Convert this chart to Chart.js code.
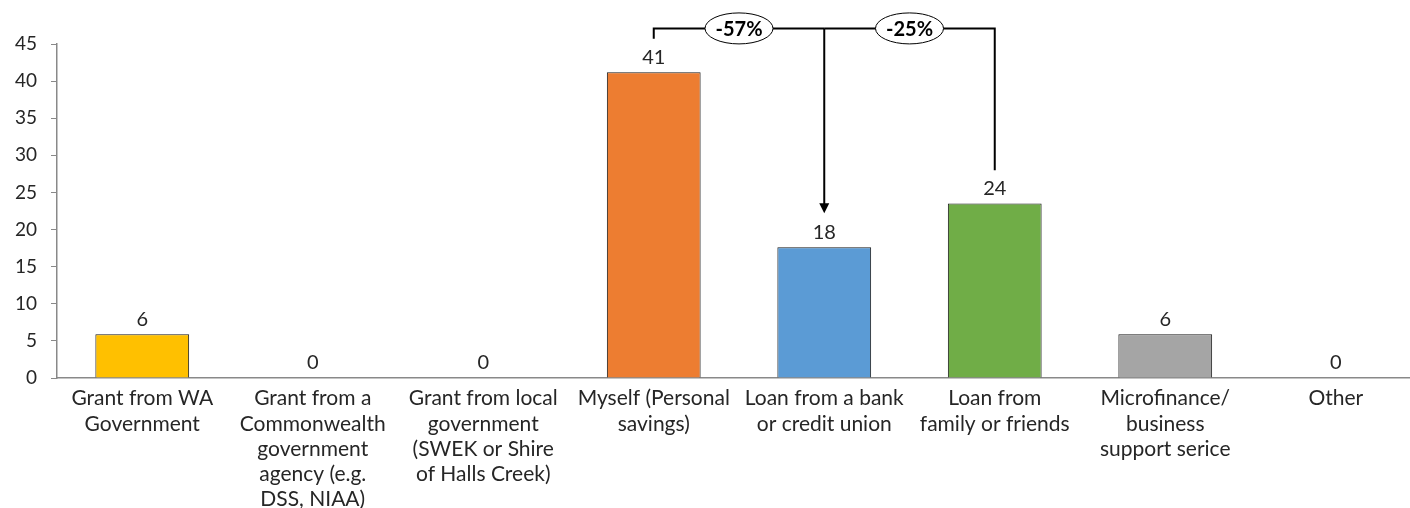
<!DOCTYPE html>
<html>
<head>
<meta charset="utf-8">
<script src="https://cdn.jsdelivr.net/npm/chart.js@4"></script>
<style>
  html, body { margin: 0; padding: 0; overflow: hidden; background: #fff; }
</style>
</head>
<body>
<canvas id="fundChart" width="1421" height="508"></canvas>
<script>
const categories = [
  ['Grant from WA', 'Government'],
  ['Grant from a', 'Commonwealth', 'government', 'agency (e.g.', 'DSS, NIAA)'],
  ['Grant from local', 'government', '(SWEK or Shire', 'of Halls Creek)'],
  ['Myself (Personal', 'savings)'],
  ['Loan from a bank', 'or credit union'],
  ['Loan from', 'family or friends'],
  ['Microfinance/', 'business', 'support serice'],
  ['Other']
];
const values = [5.9, 0, 0, 41.2, 17.6, 23.5, 5.9, 0];
const barColors = ['#FFC000', '#ED7D31', '#ED7D31', '#ED7D31', '#5B9BD5', '#70AD47', '#A5A5A5', '#A5A5A5'];
const yTicks = [0, 5, 10, 15, 20, 25, 30, 35, 40, 45];
// comparisons: from category index, to category index, label
const changeFrom = [3, 5];
const changeTo = [4, 4];
const changeLabels = ['-57%', '-25%'];

const FONT = 'Lato, "Open Sans", sans-serif';
const axisGrey = '#898989';
const textColor = '#262626';

// value labels above each bar
const valueLabels = {
  id: 'valueLabels',
  afterDatasetsDraw(chart) {
    const ctx = chart.ctx;
    const meta = chart.getDatasetMeta(0);
    ctx.save();
    ctx.font = '20px ' + FONT;
    ctx.fillStyle = textColor;
    ctx.textAlign = 'center';
    ctx.textBaseline = 'bottom';
    meta.data.forEach((bar, i) => {
      ctx.fillText(String(Math.round(values[i])), bar.x, bar.y - 5);
    });
    ctx.restore();
  }
};

// bracket + arrow with percentage changes
const changeBrackets = {
  id: 'changeBrackets',
  afterDraw(chart) {
    const ctx = chart.ctx;
    const x = chart.scales.x, y = chart.scales.y;
    const topY = y.getPixelForValue(47.1);
    ctx.save();
    ctx.strokeStyle = '#000';
    ctx.lineWidth = 2;
    changeFrom.forEach((from, k) => {
      const to = changeTo[k];
      const x1 = x.getPixelForValue(from);
      const x2 = x.getPixelForValue(to);
      const startBottom = y.getPixelForValue(values[from] + 4.5);
      ctx.beginPath();
      ctx.moveTo(x1, startBottom);
      ctx.lineTo(x1, topY);
      ctx.lineTo(x2, topY);
      ctx.stroke();
    });
    // arrow down to target
    const xt = x.getPixelForValue(changeTo[0]);
    const tip = y.getPixelForValue(values[changeTo[0]] + 4.6);
    ctx.beginPath();
    ctx.moveTo(xt, topY);
    ctx.lineTo(xt, tip - 9);
    ctx.stroke();
    ctx.fillStyle = '#000';
    ctx.beginPath();
    ctx.moveTo(xt - 5, tip - 10);
    ctx.lineTo(xt + 5, tip - 10);
    ctx.lineTo(xt, tip);
    ctx.closePath();
    ctx.fill();
    // ellipse labels
    changeFrom.forEach((from, k) => {
      const cx = (x.getPixelForValue(from) + x.getPixelForValue(changeTo[k])) / 2;
      ctx.beginPath();
      ctx.ellipse(cx, topY, 34, 15.5, 0, 0, Math.PI * 2);
      ctx.fillStyle = '#fff';
      ctx.fill();
      ctx.lineWidth = 1;
      ctx.strokeStyle = '#000';
      ctx.stroke();
      ctx.fillStyle = '#000';
      ctx.font = 'bold 20px ' + FONT;
      ctx.textAlign = 'center';
      ctx.textBaseline = 'middle';
      ctx.fillText(changeLabels[k], cx, topY + 1);
    });
    ctx.restore();
  }
};

new Chart(document.getElementById('fundChart'), {
  type: 'bar',
  data: {
    labels: categories,
    datasets: [{
      data: values,
      backgroundColor: barColors,
      borderColor: '#1a1a1a',
      borderWidth: values.map(v => v > 0 ? 1 : 0),
      barPercentage: 0.55,
      categoryPercentage: 1.0
    }]
  },
  options: {
    responsive: false,
    animation: false,
    devicePixelRatio: 1,
    layout: { padding: { top: 44, right: 0, left: 0, bottom: 0 } },
    plugins: {
      legend: { display: false },
      tooltip: { enabled: false }
    },
    scales: {
      x: {
        grid: { display: false },
        border: { display: true, color: axisGrey, width: 1.5 },
        ticks: {
          color: textColor,
          font: { family: FONT, size: 21, lineHeight: 1.2 },
          padding: 0,
          maxRotation: 0,
          autoSkip: false
        },
        afterFit(scale) { scale.height = 130; }
      },
      y: {
        min: 0,
        max: 45,
        afterBuildTicks(scale) { scale.ticks = yTicks.map(v => ({ value: v })); },
        grid: { drawOnChartArea: false, color: axisGrey, tickLength: 6 },
        border: { display: true, color: axisGrey, width: 1.5 },
        ticks: {
          color: textColor,
          font: { family: FONT, size: 19 },
          padding: 14
        },
        afterFit(scale) { scale.width = 57; }
      }
    }
  },
  plugins: [valueLabels, changeBrackets]
});
</script>
</body>
</html>
